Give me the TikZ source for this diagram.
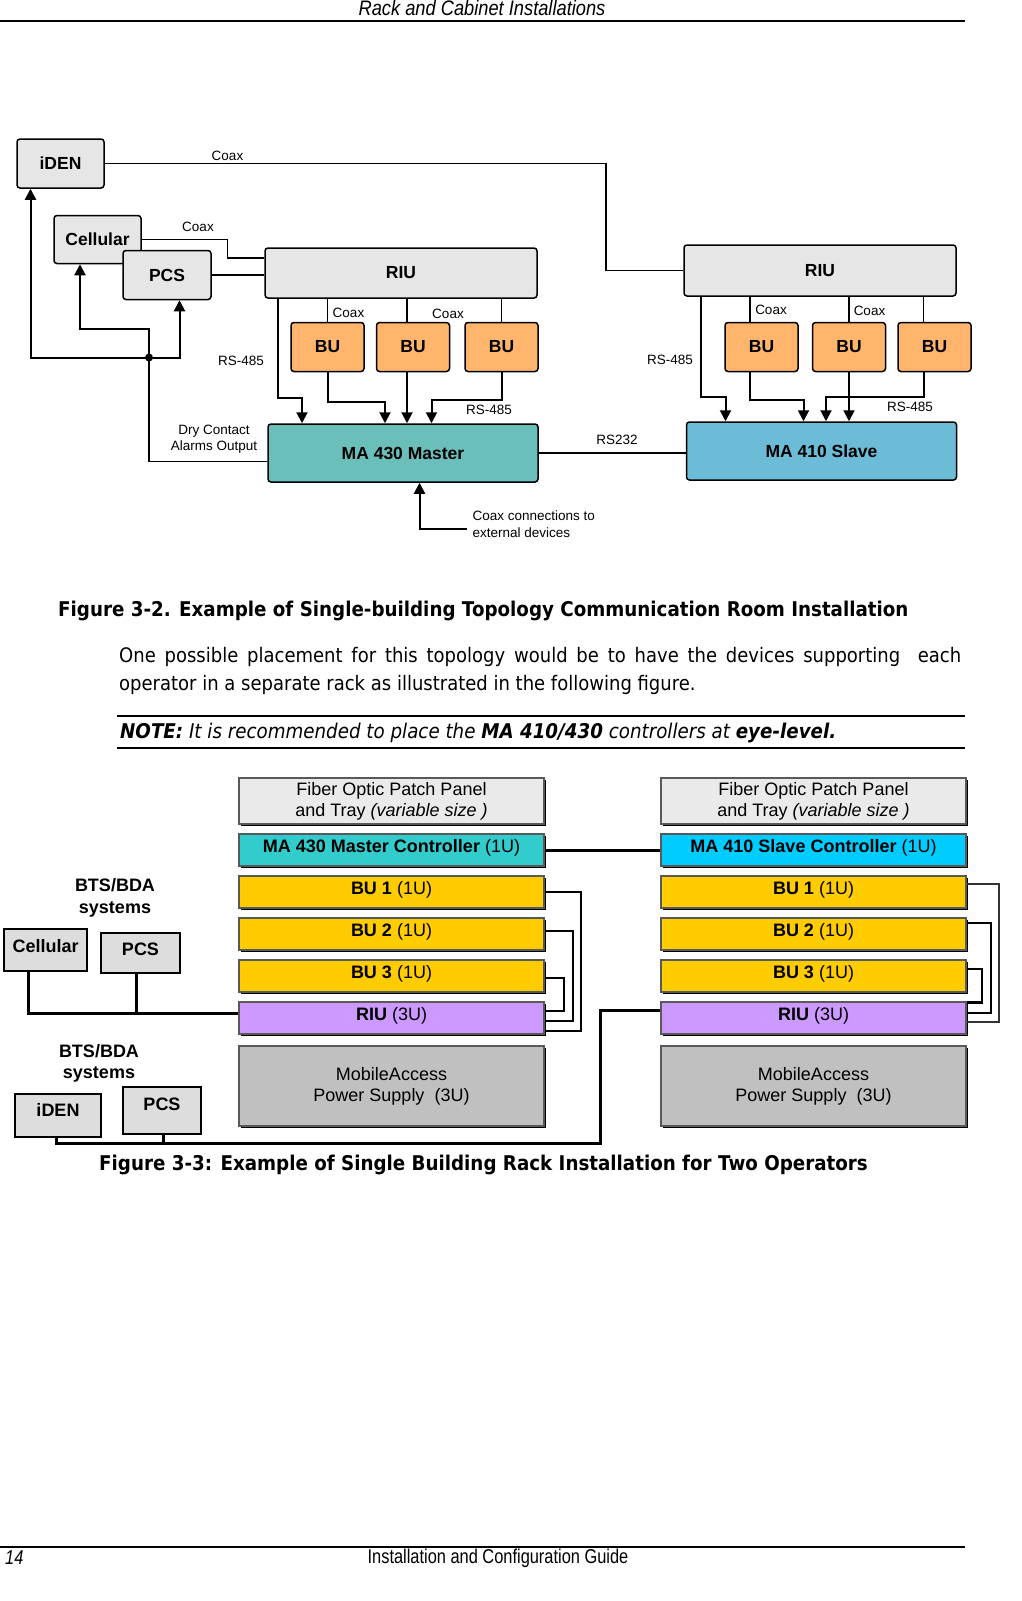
\documentclass[tikz,border=0pt]{standalone}
\usepackage{fontspec}
\setmainfont{Liberation Sans}
\newfontfamily\tahoma[FakeStretch=0.9]{DejaVu Sans}
\newfontfamily\narrow[FakeStretch=0.82]{Liberation Sans}
\newfontfamily\hdrfont[FakeStretch=0.87]{Liberation Sans}
\usetikzlibrary{arrows.meta,positioning,calc,shadows}
\definecolor{unitgray}{HTML}{E6E6E6}
\definecolor{buorange}{HTML}{FFB66C}
\definecolor{masterteal}{HTML}{6BBFBB}
\definecolor{slaveblue}{HTML}{6CBCD8}
\definecolor{fibergray}{HTML}{EAEAEA}
\definecolor{ctlcyan}{HTML}{33CCCC}
\definecolor{ctlblue}{HTML}{00CCFF}
\definecolor{buyellow}{HTML}{FFCC00}
\definecolor{riupurple}{HTML}{CC99FF}
\definecolor{psgray}{HTML}{C0C0C0}
\definecolor{btsgray}{HTML}{DDDDDD}
\begin{document}
\begin{tikzpicture}[x=1pt, y=-1pt,
	unit/.style = {draw, rounded corners=3pt, line width=1.5pt, fill=unitgray, inner sep=0pt,
		font=\bfseries\fontsize{17.5}{20}\selectfont},
	bu/.style = {unit, fill=buorange, minimum width=73pt, minimum height=49pt},
	tag/.style = {inner sep=0pt, font=\fontsize{13.5}{16.5}\selectfont},
	link/.style = {line width=1.6pt},
	sig/.style = {line width=2pt, -{Triangle[width=11pt,length=11pt]}},
	panel/.style = {draw=black!65, line width=1.2pt, fill=#1, inner sep=0pt, minimum width=305pt,
		align=center, font=\fontsize{18}{21}\selectfont,
		drop shadow={shadow xshift=2pt, shadow yshift=-2pt, fill=black, opacity=1}},
	slot/.style = {panel=#1, minimum height=32pt, text height=13pt, text depth=8pt},
	bts/.style = {draw, line width=2pt, fill=btsgray, inner sep=0pt, text height=12pt, text depth=7pt,
		font=\bfseries\fontsize{18}{21}\selectfont},
	heading/.style = {inner sep=0pt, align=center, font=\bfseries\fontsize{18}{21.5}\selectfont},
	cable/.style = {line width=3pt},
	jumper/.style = {line width=2pt}]
	\fill[white] (0,0) rectangle (1022,1601);
	\useasboundingbox (0,0) rectangle (1022,1601);
	% page frame
	\node[inner sep=0pt, font=\hdrfont\itshape\fontsize{21}{23}\selectfont] (header) at (482,8) {Rack and Cabinet Installations};
	\draw[line width=1.2pt] (0,21) -- (965,21);
	\draw[line width=1.2pt] (0,1547) -- (965,1547);
	\node[inner sep=0pt, anchor=west, font=\narrow\itshape\fontsize{20}{22}\selectfont] (pageno) at (5,1558) {14};
	\node[inner sep=0pt, font=\narrow\fontsize{20}{22}\selectfont] (footer) at (498,1558) {Installation and Configuration Guide};

	% figure 3-2
	\node[unit, minimum width=87pt, minimum height=49pt] (iden) at (60.5,163.5) {iDEN};
	\node[unit, minimum width=87pt, minimum height=48pt] (cell) at (97.5,239.5) {Cellular};
	\node[unit, minimum width=88pt, minimum height=49pt] (pcs) at (167,275) {PCS};
	\node[unit, minimum width=272pt, minimum height=50pt] (riuM) at (401,273) {RIU};
	\node[bu] (buM1) at (327.5,347) {BU};
	\node[bu] (buM2) at (413,347) {BU};
	\node[bu] (buM3) at (501.5,347) {BU};
	\node[unit, fill=masterteal, minimum width=270pt, minimum height=58pt] (master) at (403,453) {MA 430 Master};
	\node[unit, minimum width=272pt, minimum height=51pt] (riuS) at (820,270.5) {RIU};
	\node[bu] (buS1) at (761.5,347) {BU};
	\node[bu] (buS2) at (849,347) {BU};
	\node[bu] (buS3) at (934.5,347) {BU};
	\node[unit, fill=slaveblue, minimum width=270pt, minimum height=58pt] (slave) at (821.5,451) {MA 410 Slave};

	\draw[link] (iden.east) -- (606,163.5) |- (riuS.west);
	\draw[link] (cell.east) -- (227.5,239.5) |- ([yshift=15pt]riuM.west);
	\draw[link] (pcs.east) -- (pcs.east -| riuM.west);
	\draw[link] (riuM.south -| buM1.north) -- (buM1.north);
	\draw[link] (riuM.south -| 407,0) -- (buM2.north -| 407,0);
	\draw[link] (riuM.south -| buM3.north) -- (buM3.north);
	\draw[link] (riuS.south -| 750,0) -- (buS1.north -| 750,0);
	\draw[link] (riuS.south -| buS2.north) -- (buS2.north);
	\draw[link] (riuS.south -| 923.5,0) -- (buS3.north -| 923.5,0);
	\draw[link] (master.east) -- (master.east -| slave.west);

	\draw[sig] (riuM.south -| 278,0) |- (302,397.5) -- (master.north -| 302,0);
	\draw[sig] (buM1.south) |- (385,401.5) -- (master.north -| 385,0);
	\draw[sig] (buM2.south -| 407,0) -- (master.north -| 407,0);
	\draw[sig] (buM3.south) |- (431.5,399.5) -- (master.north -| 431.5,0);
	\draw[sig] (riuS.south -| 701,0) |- (725.5,397) -- (slave.north -| 725.5,0);
	\draw[sig] (buS1.south -| 750,0) |- (803.5,399.5) -- (slave.north -| 803.5,0);
	\draw[sig] (buS2.south) -- (slave.north -| buS2.south);
	\draw[sig] (buS3.south -| 923.5,0) |- (826,397) -- (slave.north -| 826,0);

	\coordinate (tap) at (149,357.5);
	\draw[link] (master.west |- 0,461.5) -| (tap);
	\draw[sig] (tap) -| (iden.south -| 30.5,0);
	\draw[sig] (tap) -- (149,329) -| (cell.south -| 80,0);
	\draw[sig] (tap) -| (pcs.south -| 179.5,0);
	\fill (tap) circle (4pt);
	\coordinate (ext) at (467,529);
	\draw[sig] (ext) -| (master.south -| 419.5,0);

	\node[tag] (coaxA) at (227.5,156) {Coax};
	\node[tag] (coaxB) at (198,227) {Coax};
	\node[tag] (coaxC) at (348.5,313) {Coax};
	\node[tag] (coaxD) at (448,314) {Coax};
	\node[tag] (coaxE) at (771,310) {Coax};
	\node[tag] (coaxF) at (869.5,310.5) {Coax};
	\node[tag] (rsA) at (241,361) {RS-485};
	\node[tag] (rsB) at (489,409.5) {RS-485};
	\node[tag] (rsC) at (670,360) {RS-485};
	\node[tag] (rsD) at (910,407) {RS-485};
	\node[tag] (rsE) at (617,439.5) {RS232};
	\node[tag, align=center] (dry) at (214,439) {Dry Contact\\Alarms Output};
	\node[tag, align=left, anchor=west] (extlbl) at (472.5,524) {Coax connections to\\external devices};

	% text between the figures
	\node[inner sep=0pt, anchor=base west, font=\tahoma\bfseries\fontsize{20.3}{23}\selectfont] (cap2) at (58,616) {Figure 3-2. Example of Single-building Topology Communication Room Installation};
	\node[inner sep=0pt, anchor=base west, font=\tahoma\fontsize{20}{28}\selectfont] (paraA) at (119,662) {\makebox[842pt][s]{One possible placement for this topology would be to have the devices supporting\ \ each}};
	\node[inner sep=0pt, anchor=base west, font=\tahoma\fontsize{20}{28}\selectfont] (paraB) at (119,690) {operator in a separate rack as illustrated in the following figure.};
	\draw[line width=2pt] (117,716) -- (965,716);
	\draw[line width=2pt] (117,748) -- (965,748);
	\node[inner sep=0pt, anchor=base west, font=\tahoma\itshape\fontsize{20.3}{23}\selectfont] (note) at (120,738) {\textbf{NOTE:} It is recommended to place the \textbf{MA 410/430} controllers at \textbf{eye-level.}};

	% figure 3-3
	\foreach \s/\x/\ctlfill/\ctltext in {L/391.5/ctlcyan/MA 430 Master, R/813.5/ctlblue/MA 410 Slave} {
		\node[panel=fibergray, minimum height=46pt] (fib\s) at (\x,801) {Fiber Optic Patch Panel\\and Tray \textit{(variable size )}};
		\node[slot=\ctlfill] (ctl\s) at (\x,850) {\textbf{\ctltext\ Controller} (1U)};
		\foreach \n/\y in {1/892,2/934,3/976}
			\node[slot=buyellow] (bu\n\s) at (\x,\y) {\textbf{BU \n} (1U)};
		\node[slot=riupurple] (riu\s) at (\x,1018) {\textbf{RIU} (3U)};
		\node[panel=psgray, minimum height=80pt] (ps\s) at (\x,1086) {MobileAccess\\Power Supply\ \ (3U)};
	}
	\draw[cable] (ctlL.east) -- (ctlR.west);
	\draw[jumper] (bu1L.east |- 0,892) -| (581,1031) -- (riuL.east |- 0,1031);
	\draw[jumper] (bu2L.east |- 0,931) -| (573,1021) -- (riuL.east |- 0,1021);
	\draw[jumper] (bu3L.east |- 0,978) -| (563.5,1010.5) -- (riuL.east |- 0,1010.5);
	\draw[jumper, line width=1.5pt, black!80] (bu1R.east |- 0,884) -| (999,1022) -- (riuR.east |- 0,1022);
	\draw[jumper, line width=2.6pt] (bu2R.east |- 0,923) -| (991,1013) -- (riuR.east |- 0,1013);
	\draw[jumper, line width=2.6pt] (bu3R.east |- 0,969) -| (982,1002.5) -- (riuR.east |- 0,1002.5);

	\node[heading] (btsA) at (115,898) {BTS/BDA\\systems};
	\node[bts, minimum width=83pt, minimum height=42pt] (cellA) at (45.7,949.7) {Cellular};
	\node[bts, minimum width=79pt, minimum height=40.6pt] (pcsA) at (140.5,953) {PCS};
	\draw[cable] (cellA.south -| 28,0) |- (riuL.west |- 0,1013.8);
	\draw[cable] (pcsA.south -| 136.5,0) -- (136.5,1013.8);
	\node[heading] (btsB) at (99,1063.5) {BTS/BDA\\systems};
	\node[bts, minimum width=86pt, minimum height=43pt, text depth=9pt] (idenB) at (58,1115) {iDEN};
	\node[bts, minimum width=78pt, minimum height=47pt, text depth=13pt] (pcsB) at (162,1110.7) {PCS};
	\draw[cable] (idenB.south -| 56,0) |- (600.5,1143.5) |- (riuR.west |- 0,1010);
	\draw[cable] (pcsB.south -| 163.5,0) -- (163.5,1143.5);

	\node[inner sep=0pt, anchor=base west, font=\tahoma\bfseries\fontsize{20.3}{23}\selectfont] (cap3) at (99,1170) {Figure 3-3: Example of Single Building Rack Installation for Two Operators};
\end{tikzpicture}
\end{document}
